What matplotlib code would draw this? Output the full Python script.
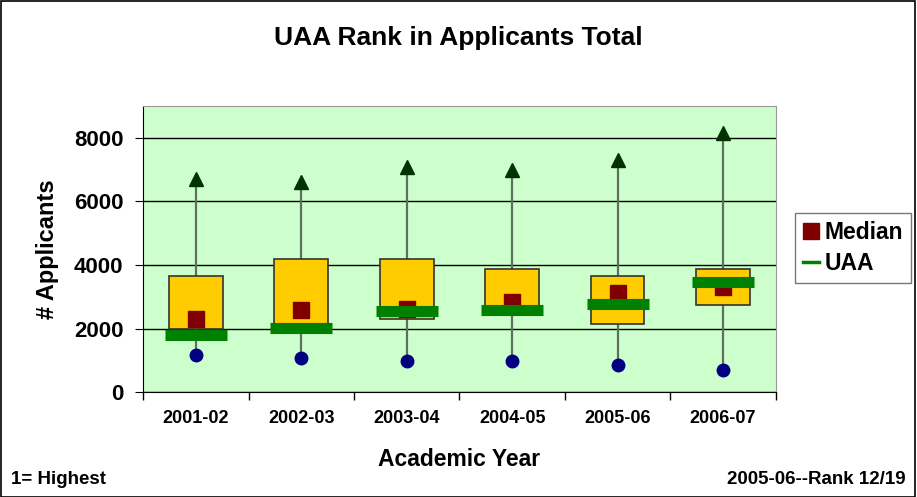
import matplotlib.pyplot as plt
from matplotlib.lines import Line2D
from matplotlib.patches import Rectangle
import numpy as np

plt.rcParams['font.family'] = ['Liberation Sans', 'DejaVu Sans']

# values
years = ['2001-02', '2002-03', '2003-04', '2004-05', '2005-06', '2006-07']
q1 = [1990, 2000, 2290, 2500, 2140, 2730]
q3 = [3650, 4200, 4200, 3870, 3650, 3870]
median = [2300, 2580, 2620, 2830, 3120, 3300]
uaa = [1800, 2025, 2540, 2580, 2760, 3450]
max_val = [6710, 6610, 7080, 6990, 7300, 8140]
min_val = [1165, 1080, 980, 980, 840, 710]

fig = plt.figure(figsize=(9.17, 4.97), dpi=100)
ax = fig.add_axes([0.156, 0.211, 0.690, 0.576])
ax.set_facecolor('#CCFFCC')

x = np.arange(len(years))

# whiskers
ax.vlines(x, min_val, max_val, color='#5F6F5F', lw=1.6, zorder=2)
# boxes
ax.bar(x, np.array(q3) - np.array(q1), bottom=q1, width=0.51,
       color='#FFCC00', edgecolor='#333333', lw=1.2, zorder=3)
ax.plot(x, median, ls='none', marker='s', ms=11.5, color='#800000', zorder=4)
ax.plot(x, uaa, ls='none', marker='_', ms=45, mew=8, color='#008000', zorder=5)
ax.plot(x, max_val, ls='none', marker='^', ms=10, color='#003300', zorder=4)
ax.plot(x, min_val, ls='none', marker='o', ms=9, color='#000080', zorder=4)

ax.set_xlim(-0.5, len(years) - 0.5)
ax.set_ylim(0, 9000)
ax.set_yticks([0, 2000, 4000, 6000, 8000])
ax.yaxis.grid(True, color='black', lw=1)
ax.set_axisbelow(True)
ax.set_xticks(x)
ax.set_xticklabels(years, fontsize=13, fontweight='bold')
ax.set_xticks(np.arange(-0.5, len(years)), minor=True)
ax.tick_params(axis='x', which='major', length=0, pad=13)
ax.tick_params(axis='x', which='minor', length=6, direction='out', width=1)
ax.tick_params(axis='y', length=6, direction='out', labelsize=16, pad=8)
for lab in ax.get_yticklabels():
    lab.set_fontweight('bold')

ax.spines['top'].set_color('#999999')
ax.spines['right'].set_color('#999999')
ax.spines['left'].set_color('black')
ax.spines['bottom'].set_color('black')

ax.set_ylabel('# Applicants', fontsize=17, fontweight='bold', labelpad=11)
ax.set_xlabel('Academic Year', fontsize=16.5, fontweight='bold', labelpad=15)
fig.text(0.5, 0.924, 'UAA Rank in Applicants Total', ha='center', va='center',
         fontsize=19, fontweight='bold')
fig.text(0.012, 0.036, '1= Highest', ha='left', va='center', fontsize=13.5, fontweight='bold')
fig.text(0.988, 0.036, '2005-06--Rank 12/19', ha='right', va='center', fontsize=13.5, fontweight='bold')

handles = [Line2D([], [], ls='none', marker='s', ms=12, color='#800000'),
           Line2D([], [], color='#008000', lw=2.5)]
leg = fig.legend(handles, ['Median', 'UAA'], loc='upper left',
                 bbox_to_anchor=(0.867, 0.571), borderaxespad=0, frameon=True, fancybox=False,
                 prop={'size': 16.5, 'weight': 'bold'}, handlelength=0.7,
                 handletextpad=0.25, borderpad=0.35, labelspacing=0.35)
leg.get_frame().set_edgecolor('#555555')
leg.get_frame().set_linewidth(1)

fig.patches.append(Rectangle((0.001, 0.001), 0.997, 0.997, transform=fig.transFigure,
                             fill=False, edgecolor='black', lw=1.2))

fig.savefig('out.png', dpi=100)
